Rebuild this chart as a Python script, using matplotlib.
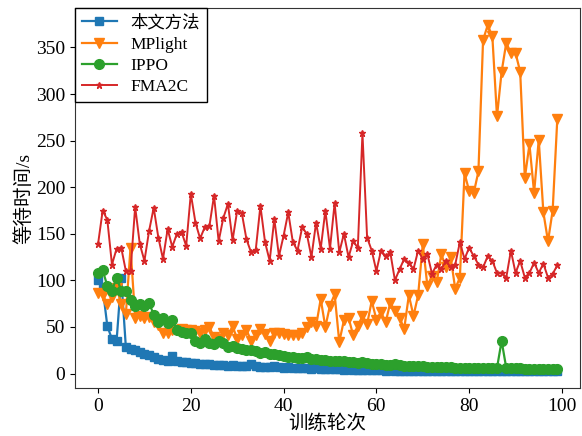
import matplotlib
matplotlib.use("Agg")
import matplotlib.pyplot as plt
import numpy as np

plt.rcParams['font.family'] = ['Liberation Serif', 'Noto Sans CJK SC']

episodes = list(range(100))

ours = [100, 92, 51, 37, 35, 103, 28, 26, 25, 23, 21, 20, 18, 16, 15, 14, 19, 13, 12, 12,
        11, 11, 10, 10, 10, 9, 9, 9, 8, 9, 8, 8, 8, 10, 8, 7, 7, 7, 8, 7,
        6, 7, 6, 6, 6, 6, 5, 6, 5, 5, 5, 5, 5, 4, 5, 4, 4, 4, 4, 4,
        4, 4, 3, 4, 3, 3, 3, 3, 3, 3, 3, 3, 3, 3, 3, 3, 3, 3, 3, 3,
        3, 3, 3, 3, 3, 3, 3, 3, 3, 3, 3, 3, 3, 3, 3, 3, 3, 3, 3, 3]

mplight = [87, 84, 75, 82, 92, 75, 64, 135, 60, 62, 60, 61, 55, 52, 44, 43, 47, 47, 48, 47,
           47, 46, 44, 47, 50, 39, 37, 44, 41, 51, 37, 41, 47, 35, 41, 48, 42, 35, 44, 44,
           42, 41, 41, 41, 44, 50, 55, 51, 80, 50, 73, 85, 34, 57, 60, 41, 51, 62, 53, 78,
           58, 66, 55, 76, 67, 60, 48, 84, 62, 84, 139, 94, 105, 98, 128, 114, 125, 91, 103, 215,
           196, 194, 217, 358, 374, 362, 276, 324, 355, 344, 344, 324, 210, 246, 194, 251, 173, 142, 175, 273]

ippo = [108, 111, 94, 89, 103, 89, 89, 79, 73, 75, 73, 76, 63, 55, 60, 54, 58, 47, 45, 44,
        44, 35, 33, 37, 33, 32, 35, 33, 28, 30, 27, 26, 25, 25, 24, 22, 23, 21, 21, 20,
        19, 18, 18, 17, 17, 18, 16, 16, 15, 15, 14, 14, 13, 13, 12, 12, 11, 12, 11, 10,
        10, 10, 9, 9, 10, 9, 8, 8, 8, 8, 8, 7, 7, 7, 7, 7, 7, 6, 6, 6,
        6, 6, 6, 6, 6, 6, 6, 35, 6, 6, 6, 6, 5, 5, 5, 5, 5, 5, 5, 5]

fma2c = [139, 175, 165, 117, 134, 135, 110, 110, 179, 139, 121, 153, 178, 146, 123, 155, 136, 150, 152, 137,
         193, 162, 145, 157, 158, 191, 142, 167, 182, 143, 175, 172, 144, 130, 133, 180, 141, 121, 166, 126,
         148, 173, 141, 132, 157, 150, 125, 162, 134, 175, 134, 183, 130, 150, 125, 142, 135, 258, 146, 132,
         110, 132, 126, 130, 100, 112, 123, 119, 112, 132, 123, 128, 107, 117, 112, 121, 114, 117, 141, 123,
         135, 126, 117, 114, 126, 121, 108, 108, 103, 132, 108, 121, 103, 108, 119, 108, 118, 103, 107, 116]

labels = ['本文方法', 'MPlight', 'IPPO', 'FMA2C']
xticks = [0, 20, 40, 60, 80, 100]
yticks = [0, 50, 100, 150, 200, 250, 300, 350]

fig = plt.figure(figsize=(5.82, 4.36), dpi=100)
ax = fig.add_axes([0.129, 0.110, 0.868, 0.872])

ax.plot(episodes, ours, color='#1f77b4', marker='s', markersize=5.5, linewidth=1.6, label=labels[0])
ax.plot(episodes, mplight, color='#ff7f0e', marker='v', markersize=7, linewidth=1.6, label=labels[1])
ax.plot(episodes, ippo, color='#2ca02c', marker='o', markersize=7, linewidth=1.6, label=labels[2])
ax.plot(episodes, fma2c, color='#d62728', marker='*', markersize=5, linewidth=1.4, label=labels[3])

ax.set_xticks(xticks)
ax.set_yticks(yticks)
ax.tick_params(labelsize=14)
ax.set_xlabel('训练轮次', fontsize=14, labelpad=0)
ax.set_ylabel('等待时间/s', fontsize=14, labelpad=2)

leg = ax.legend(loc='upper left', fontsize=12.5, fancybox=False, framealpha=1,
                edgecolor='black', borderaxespad=0, handlelength=2, labelspacing=0.3)
leg.get_frame().set_linewidth(1.0)

for s in ax.spines.values():
    s.set_color('#333333')

fig.savefig('out.png', dpi=100)
